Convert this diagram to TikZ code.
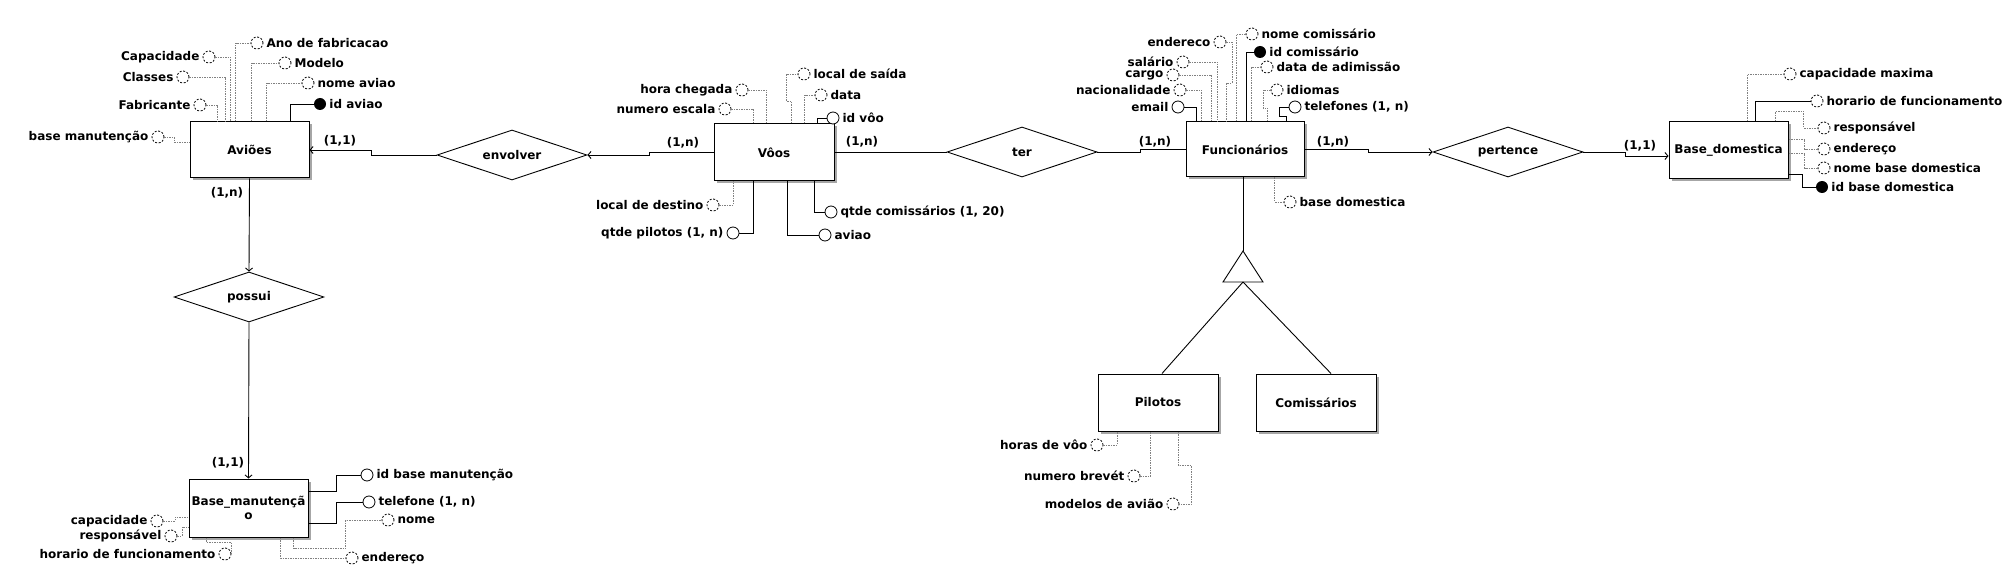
\documentclass[tikz,border=0pt]{standalone}
\usepackage{fontspec}
\setmainfont{DejaVu Sans}
\usetikzlibrary{arrows.meta,shapes.geometric,shadows}

\begin{document}
\begin{tikzpicture}[x=1pt,y=-1pt,
  font=\fontsize{12}{14}\selectfont\bfseries,
  entidade/.style={draw,line width=1pt,fill=white,minimum width=120pt,minimum height=57pt,inner sep=0pt,align=center,
    drop shadow={shadow xshift=2.5pt,shadow yshift=-2.5pt,fill=black!35,opacity=1}},
  relacao/.style={draw,line width=0.9pt,shape=diamond,aspect=3,minimum width=150pt,minimum height=50pt,inner sep=0pt,fill=white},
  atrib/.style={draw,circle,minimum size=12pt,inner sep=0pt,line width=0.8pt,dash pattern=on 2pt off 1.6pt,fill=white},
  atribobr/.style={draw,circle,minimum size=12pt,inner sep=0pt,line width=0.8pt,fill=white},
  atribid/.style={circle,minimum size=12pt,inner sep=0pt,fill=black},
  lig/.style={gray,line width=0.6pt,dash pattern=on 1.5pt off 1pt},
  ligs/.style={line width=0.9pt},
  seta/.style={ligs,-{Straight Barb[length=3pt,width=7pt]}},
  card/.style={inner sep=0pt},
  every label/.style={inner sep=1pt},
  label distance=2pt]
  \useasboundingbox (0,0) rectangle (2010,569);

  % entidades
  \node[entidade,minimum width=119pt,minimum height=56pt] (avioes) at (249.5,150) {Aviões};
  \node[entidade] (voos) at (774,152.5) {Vôos};
  \node[entidade,minimum width=118pt,minimum height=55pt] (func) at (1245,149.5) {Funcionários};
  \node[entidade,minimum width=119pt] (bdom) at (1728.5,150.5) {Base\_domestica};
  \node[entidade,minimum width=119pt,minimum height=58pt] (bman) at (248.5,508) {Base\_manutençã\\o};
  \node[entidade] (pil) at (1158,402.5) {Pilotos};
  \node[entidade] (com) at (1316,402.5) {Comissários};

  % relacionamentos
  \node[relacao] (envolver) at (512,155) {envolver};
  \node[relacao] (ter) at (1022,152) {ter};
  \node[relacao] (pertence) at (1508,152) {pertence};
  \node[relacao] (possui) at (249,297) {possui};

  \draw[seta] (envolver.west) -- ++(-65,0) |- (avioes.east);
  \draw[seta] (voos.west) -- ++(-64,0) |- (envolver.east);
  \draw[ligs] (voos.east) -- ++(93,0) |- (ter.west);
  \draw[ligs] (ter.east) -- ++(43,0) |- (func.west);
  \draw[seta] (func.east) -- ++(64,0) |- (pertence.west);
  \draw[seta] (pertence.east) -- ++(42,0) |- ([yshift=-5.5pt]bdom.west);
  \draw[seta] (avioes.south) -- (possui.north);
  \draw[seta] (possui.south) -- (bman.north);

  \node[card] (c1) at (340,141) {(1,1)};
  \node[card] (c2) at (683,143) {(1,n)};
  \node[card] (c3) at (862,142) {(1,n)};
  \node[card] (c4) at (1155,142) {(1,n)};
  \node[card] (c5) at (1333,142) {(1,n)};
  \node[card] (c6) at (1640,146) {(1,1)};
  \node[card] (c7) at (227,193) {(1,n)};
  \node[card] (c8) at (228,463) {(1,1)};

  % especializacao
  \coordinate (espT) at (1243,251);
  \coordinate (espL) at (1223,282);
  \coordinate (espR) at (1263,282);
  \coordinate (espB) at (1243,282);
  \draw[ligs] (func.south -| espT) -- (espT);
  \draw[ligs] (espT) -- (espR) -- (espL) -- cycle;
  \draw[ligs] (espB) -- ([xshift=4pt]pil.north);
  \draw[ligs] (espB) -- ([xshift=15pt]com.north);

  % atributos de Avioes
  \node[atrib,label=right:Ano de fabricacao] (avAno) at (257,43) {};
  \node[atrib,label=left:Capacidade] (avCap) at (209,57) {};
  \node[atrib,label=right:Modelo] (avMod) at (285,63) {};
  \node[atrib,label=left:Classes] (avCla) at (183,77) {};
  \node[atrib,label=right:nome aviao] (avNom) at (308,83) {};
  \node[atrib,label=left:Fabricante] (avFab) at (200,105) {};
  \node[atribid,label=right:id aviao] (avId) at (320,104) {};
  \node[atrib,label=left:base manutenção] (avBase) at (158,137) {};
  \draw[lig] ([xshift=46pt]avioes.north west) |- (avAno);
  \draw[lig] (avCap) -| ([xshift=41pt]avioes.north west);
  \draw[lig] ([xshift=62pt]avioes.north west) |- (avMod);
  \draw[lig] (avCla) -| ([xshift=36pt]avioes.north west);
  \draw[lig] ([xshift=77pt]avioes.north west) |- (avNom);
  \draw[lig] (avFab) -| ([xshift=28pt]avioes.north west);
  \draw[ligs] ([xshift=101pt]avioes.north west) |- (avId);
  \draw[lig] (avBase) -- ++(16,0) |- ([yshift=8pt]avioes.west);

  % atributos de Voos
  \node[atrib,label=right:local de saída] (vSai) at (804,74) {};
  \node[atrib,label=left:hora chegada] (vHora) at (742,90) {};
  \node[atrib,label=right:data] (vData) at (821,95) {};
  \node[atrib,label=left:numero escala] (vNum) at (725,109) {};
  \node[atribobr,label=right:id vôo] (vId) at (833,118) {};
  \node[atrib,label=left:local de destino] (vDest) at (713,205) {};
  \node[atribobr,label={left:qtde pilotos (1, n)}] (vPil) at (733,233) {};
  \node[atribobr,label={right:qtde comissários (1, 20)}] (vCom) at (831,212) {};
  \node[atribobr,label=right:aviao] (vAv) at (825,235) {};
  \draw[lig] ([xshift=78pt]voos.north west) -- ++(0,-22) -- ++(-5,0) |- (vSai);
  \draw[lig] (vHora) -| ([xshift=53pt]voos.north west);
  \draw[lig] ([xshift=91pt]voos.north west) |- (vData);
  \draw[lig] (vNum) -| ([xshift=40pt]voos.north west);
  \draw[ligs] ([xshift=104pt]voos.north west) |- (vId);
  \draw[lig] (vDest) -| ([xshift=20pt]voos.south west);
  \draw[ligs] (vPil) -| ([xshift=40pt]voos.south west);
  \draw[ligs] ([xshift=101pt]voos.south west) |- (vCom);
  \draw[ligs] ([xshift=74pt]voos.south west) |- (vAv);

  % atributos de Funcionarios
  \node[atrib,label=right:nome comissário] (fNome) at (1252,34) {};
  \node[atrib,label=left:endereco] (fEnd) at (1220,42) {};
  \node[atribid,label=right:id comissário] (fId) at (1260,52) {};
  \node[atrib,label=left:salário] (fSal) at (1183,62) {};
  \node[atrib,label=right:data de adimissão] (fData) at (1267,67) {};
  \node[atrib,label=left:cargo] (fCargo) at (1173,75) {};
  \node[atrib,label=right:idiomas] (fIdi) at (1277,90) {};
  \node[atrib,label=left:nacionalidade] (fNac) at (1180,90) {};
  \node[atribobr,label=left:email] (fEmail) at (1178,107) {};
  \node[atribobr,label={right:telefones (1, n)}] (fTel) at (1295,107) {};
  \node[atrib,label=right:base domestica] (fBase) at (1290,202) {};
  \draw[lig] ([xshift=51pt]func.north west) |- (fNome);
  \draw[lig] (fEnd) -- ++(12,0) -- ++(0,41) -| ([xshift=41pt]func.north west);
  \draw[ligs] ([xshift=61pt]func.north west) |- (fId);
  \draw[lig] (fSal) -| ([xshift=32pt]func.north west);
  \draw[lig] ([xshift=66pt]func.north west) |- (fData);
  \draw[lig] (fCargo) -| ([xshift=26pt]func.north west);
  \draw[lig] (fIdi) -- ++(-14,0) -- ++(0,18) -| ([xshift=82pt]func.north west);
  \draw[lig] (fNac) -| ([xshift=16pt]func.north west);
  \draw[ligs] (fEmail) -| ([xshift=11pt]func.north west);
  \draw[ligs] ([xshift=101pt]func.north west) -- ++(0,-5) -- ++(-7,0) |- (fTel);
  \draw[lig] ([xshift=89pt]func.south west) |- (fBase);

  % atributos de Pilotos
  \node[atrib,label=left:horas de vôo] (pHor) at (1097,445) {};
  \node[atrib,label=left:numero brevét] (pNum) at (1134,476) {};
  \node[atrib,label=left:modelos de avião] (pMod) at (1173,504) {};
  \draw[lig] (pHor) -| ([xshift=20pt]pil.south west);
  \draw[lig] (pNum) -| ([xshift=53pt]pil.south west);
  \draw[lig] ([xshift=81pt]pil.south west) -- ++(0,34) -- ++(13,0) |- (pMod);

  % atributos de Base_manutencao
  \node[atribobr,label=right:id base manutenção] (mId) at (367,475) {};
  \node[atribobr,label={right:telefone (1, n)}] (mTel) at (369,502) {};
  \node[atrib,label=right:nome] (mNome) at (388,520) {};
  \node[atrib,label=right:endereço] (mEnd) at (352,558) {};
  \node[atrib,label=left:capacidade] (mCap) at (157,521) {};
  \node[atrib,label=left:responsável] (mResp) at (171,536) {};
  \node[atrib,label=left:horario de funcionamento] (mHor) at (225,554) {};
  \draw[ligs] ([yshift=17pt]bman.east) -- ++(28,0) |- (mId);
  \draw[ligs] ([yshift=-15pt]bman.east) -- ++(28,0) |- (mTel);
  \draw[lig] ([xshift=105pt]bman.south west) -- ++(0,11) -- ++(52,0) |- (mNome);
  \draw[lig] ([xshift=92pt]bman.south west) |- (mEnd);
  \draw[lig] (mCap) -- ++(18,0) |- ([yshift=-9pt]bman.west);
  \draw[lig] (mResp) -- ++(11,0) |- ([yshift=-19pt]bman.west);
  \draw[lig] ([xshift=18pt]bman.south west) -- ++(0,5) -| (mHor.east);

  % atributos de Base_domestica
  \node[atrib,label=right:capacidade maxima] (bCap) at (1790,74) {};
  \node[atrib,label=right:horario de funcionamento] (bHor) at (1817,101) {};
  \node[atrib,label=right:responsável] (bResp) at (1824,128) {};
  \node[atrib,label=right:endereço] (bEnd) at (1824,149) {};
  \node[atrib,label=right:nome base domestica] (bNome) at (1824,168) {};
  \node[atribid,label=right:id base domestica] (bId) at (1822,187) {};
  \draw[lig] ([xshift=79pt]bdom.north west) |- (bCap);
  \draw[ligs] ([xshift=87pt]bdom.north west) |- (bHor);
  \draw[lig] ([xshift=107pt]bdom.north west) -- ++(0,-10) -- ++(28,0) |- (bResp);
  \draw[lig] ([yshift=11.5pt]bdom.east) -- ++(16,0) |- (bEnd);
  \draw[lig] ([yshift=-2.5pt]bdom.east) -- ++(16,0) |- (bNome);
  \draw[ligs] ([yshift=-23.5pt]bdom.east) -- ++(14,0) |- (bId);
\end{tikzpicture}
\end{document}
